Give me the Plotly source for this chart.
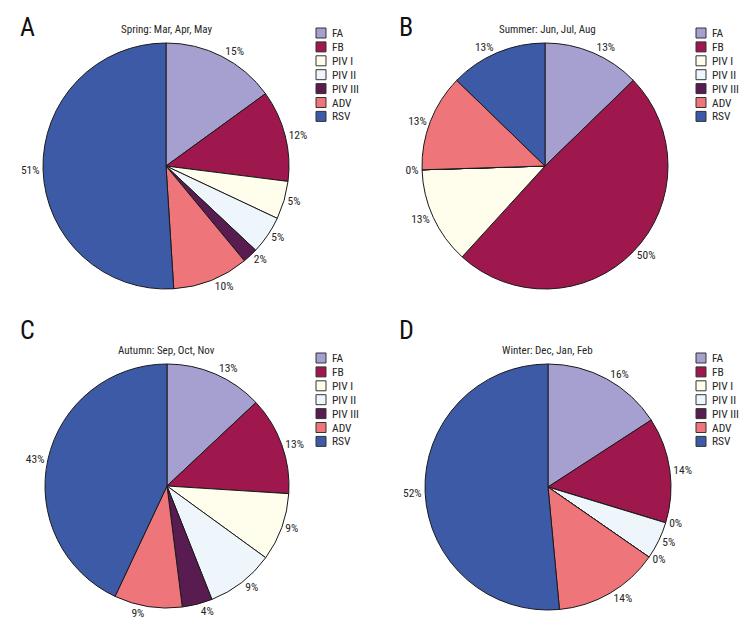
import plotly.graph_objects as go

W, H = 756, 636          # reference frame
OFF = 8                  # page body margin in the browser
FW, FH = W - OFF, H - OFF  # figure size so that it fills the window

categories = ["FA", "FB", "PIV I", "PIV II", "PIV III", "ADV", "RSV"]
colors = ["#A5A0D0", "#9E184E", "#FFFDEB", "#EEF6FC", "#581C50", "#EE767A", "#3C5AA6"]

panel_letters = ["A", "B", "C", "D"]
panel_titles = ["Spring: Mar, Apr, May", "Summer: Jun, Jul, Aug",
                "Autumn: Sep, Oct, Nov", "Winter: Dec, Jan, Feb"]

spring = [15, 12, 5, 5, 2, 10, 51]
summer = [13, 50, 13, 0, 0, 13, 13]
autumn = [13, 13, 9, 9, 4, 9, 43]
winter = [16, 14, 0, 5, 0, 14, 52]
season_values = [spring, summer, autumn, winter]

FONT = "Roboto Condensed, Liberation Sans Narrow, DejaVu Sans Condensed, Arial Narrow, Roboto, sans-serif"

# layout geometry (reference pixels): pie centre x, centre y (from top), radius
pie_geom = [(166, 166, 123), (545, 166, 123), (167, 486, 122), (548, 487, 123)]
title_pos = [(166, 29), (547, 29), (166, 350), (547, 350)]
letter_pos = [(27, 27), (406, 27), (27, 330), (406, 330)]
legend_pos = [(316, 33), (696, 33), (316, 358), (696, 358)]


def px(x):
    return (x - OFF) / FW


def py(y):
    return 1 - (y - OFF) / FH


fig = go.Figure()
shapes = []
annotations = []

for i, vals in enumerate(season_values):
    cx, cy, r = pie_geom[i]
    # overlapping zero slices show a single label
    texts = []
    for k, v in enumerate(vals):
        if v == 0 and k > 0 and vals[k - 1] == 0:
            texts.append("")
        else:
            texts.append(f"{v}%")
    fig.add_trace(go.Pie(
        labels=categories,
        values=vals,
        text=texts,
        sort=False,
        direction="clockwise",
        rotation=0,
        marker=dict(colors=colors, line=dict(color="#1a1a1a", width=1)),
        textposition="outside",
        texttemplate="%{text}",
        textfont=dict(family=FONT, size=11.5, color="#262626"),
        showlegend=False,
        hoverinfo="label+value",
        domain=dict(x=[px(cx - r), px(cx + r)], y=[py(cy + r), py(cy - r)]),
    ))

    tx, ty = title_pos[i]
    annotations.append(dict(x=px(tx), y=py(ty), xref="paper", yref="paper",
                            text=panel_titles[i], showarrow=False,
                            xanchor="center", yanchor="middle",
                            font=dict(family=FONT, size=11, color="#262626")))
    lx, ly = letter_pos[i]
    annotations.append(dict(x=px(lx), y=py(ly), xref="paper", yref="paper",
                            text=panel_letters[i], showarrow=False,
                            xanchor="center", yanchor="middle",
                            font=dict(family=FONT, size=26, color="#111111")))

    gx, gy = legend_pos[i]
    step = 13.9
    for k, (cat, col) in enumerate(zip(categories, colors)):
        yc = gy + k * step
        shapes.append(dict(type="rect", xref="paper", yref="paper",
                           x0=px(gx), x1=px(gx + 10), y0=py(yc - 5), y1=py(yc + 5),
                           fillcolor=col, line=dict(color="#333333", width=1)))
        annotations.append(dict(x=px(gx + 14), y=py(yc), xref="paper", yref="paper",
                                text=cat, showarrow=False,
                                xanchor="left", yanchor="middle",
                                font=dict(family=FONT, size=11.5, color="#262626")))

fig.update_layout(
    width=FW, height=FH,
    margin=dict(l=0, r=0, t=0, b=0),
    paper_bgcolor="white",
    plot_bgcolor="white",
    shapes=shapes,
    annotations=annotations,
    showlegend=False,
)

fig.write_html("out.html")
